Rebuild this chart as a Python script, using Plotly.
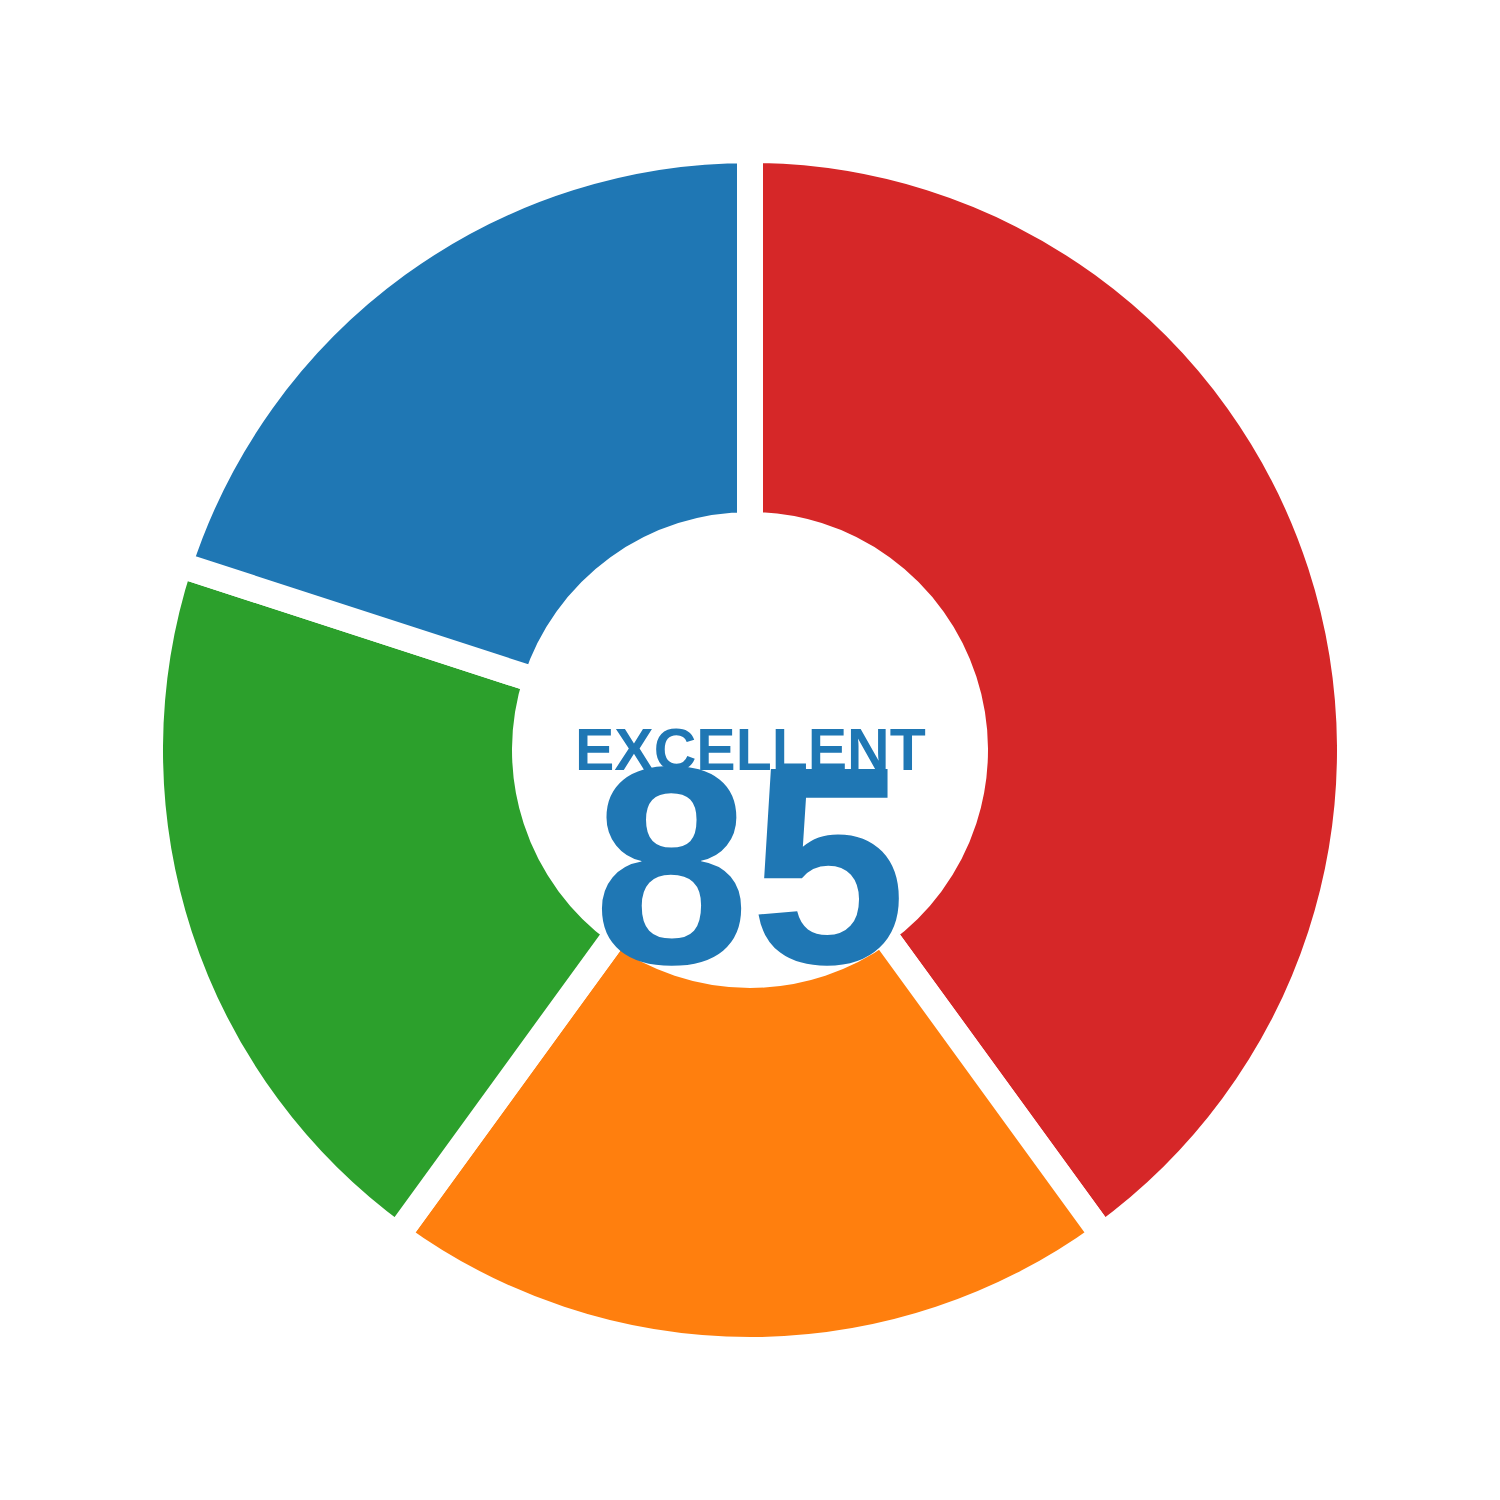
import plotly.graph_objects as go

labels = ["Red", "Orange", "Green", "Blue"]
values = [40, 20, 20, 20]
colors = ["#d62728", "#ff7f0e", "#2ca02c", "#1f77b4"]
rating_label = "EXCELLENT"
score = "85"

fig = go.Figure(
    go.Pie(
        labels=labels,
        values=values,
        hole=0.375,
        sort=False,
        direction="clockwise",
        rotation=0,
        marker=dict(colors=colors, line=dict(color="white", width=26)),
        textinfo="none",
        hoverinfo="skip",
        showlegend=False,
    )
)

fig.add_annotation(
    x=0.5, y=0.5, xref="paper", yref="paper",
    text=f"<b>{rating_label}</b>", showarrow=False,
    font=dict(family="Liberation Sans, Arial, sans-serif", size=59, color="#1f77b4"),
    xanchor="center", yanchor="middle",
)
fig.add_annotation(
    x=0.5, y=0.5 - 115 / 1200, xref="paper", yref="paper",
    text=f"<b>{score}</b>", showarrow=False,
    font=dict(family="Liberation Sans, Arial, sans-serif", size=282, color="#1f77b4"),
    xanchor="center", yanchor="middle",
)

fig.update_layout(
    width=1500, height=1500,
    margin=dict(l=150, r=150, t=150, b=150),
    paper_bgcolor="white", plot_bgcolor="white",
)

fig.write_html("out.html")
